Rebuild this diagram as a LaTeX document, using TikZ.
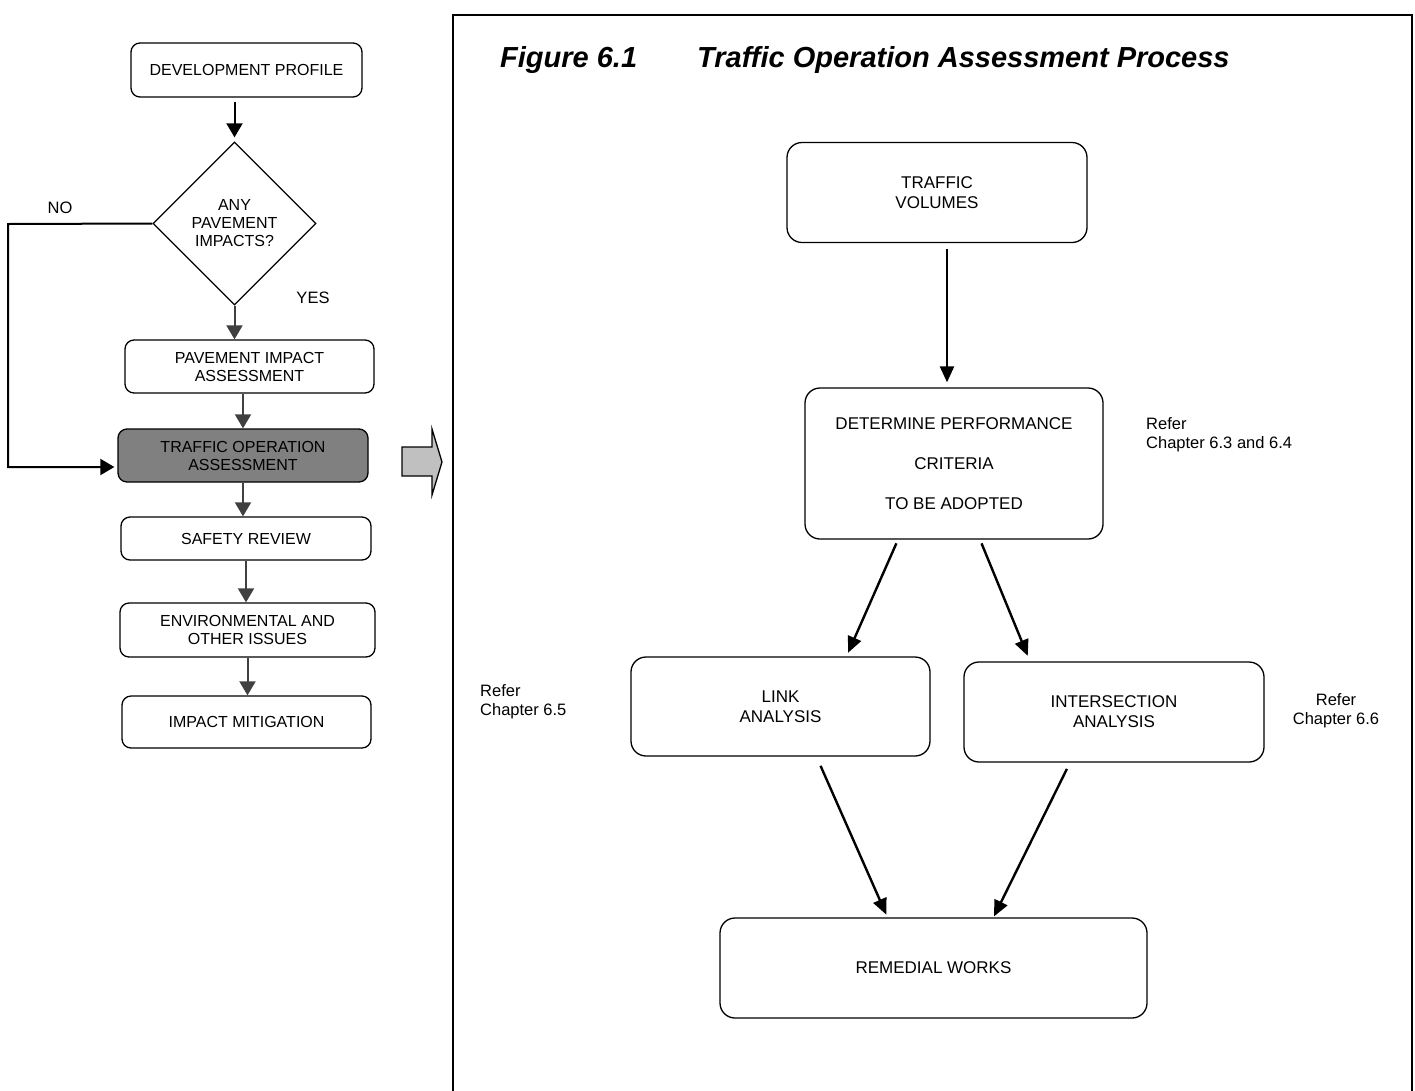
\documentclass[tikz,border=0pt]{standalone}
\usepackage{fontspec}
\setmainfont{Liberation Sans}
\setsansfont{Liberation Sans}
\usepackage{tikz}
\usetikzlibrary{shapes.geometric, arrows.meta, positioning, calc}
\definecolor{BoxGrey}{HTML}{808080}
\definecolor{ArrowGrey}{HTML}{C0C0C0}
\definecolor{StemGrey}{HTML}{404040}
\tikzset{
  leftbox/.style={rectangle, rounded corners=9pt, draw=black, line width=1.3pt, fill=white, minimum width=250pt, minimum height=53pt, font=\fontsize{16}{18}\selectfont, align=center},
  greybox/.style={leftbox, fill=BoxGrey},
  decisionbox/.style={diamond, draw=black, line width=1.3pt, fill=white, minimum width=163pt, minimum height=163pt, aspect=1, inner sep=0pt, font=\fontsize{16}{18}\selectfont, align=center},
  rightbox/.style={rectangle, rounded corners=15pt, draw=black, line width=1.3pt, fill=white, minimum width=300pt, minimum height=100pt, font=\fontsize{17}{20}\selectfont, align=center},
  arrow/.style={-{Triangle[length=14pt, width=16pt]}, line width=2pt, black},
  greyarrow/.style={arrow, StemGrey},
  rarrow/.style={-{Triangle[length=16pt, width=14pt]}, line width=2.4pt, black},
  notelabel/.style={font=\fontsize{16.5}{19}\selectfont, inner sep=0pt},
  titletext/.style={font=\fontsize{29}{31}\selectfont\bfseries\itshape, inner sep=0pt, anchor=base west}
}
\begin{document}
\begin{tikzpicture}[x=1pt, y=-1pt]
  \useasboundingbox (0,0) rectangle (1415,1090);

  % left column: overall process
  \node[leftbox, minimum width=231pt, minimum height=54pt] (dev) at (246.5,70) {DEVELOPMENT PROFILE};
  \node[decisionbox] (q) at (234.5,223.5) {ANY\\PAVEMENT\\IMPACTS?};
  \node[leftbox, minimum width=249pt] (pia) at (249.5,366.5) {PAVEMENT IMPACT\\ASSESSMENT};
  \node[greybox] (toa) at (243,455.5) {TRAFFIC OPERATION\\ASSESSMENT};
  \node[leftbox, minimum height=43pt] (safety) at (246,538.5) {SAFETY REVIEW};
  \node[leftbox, minimum width=255pt, minimum height=54pt] (env) at (247.5,630) {ENVIRONMENTAL AND\\OTHER ISSUES};
  \node[leftbox, minimum width=249pt, minimum height=52pt] (mit) at (246.5,722) {IMPACT MITIGATION};

  \node[notelabel] (no) at (60,208) {NO};
  \node[notelabel] (yes) at (313,298) {YES};

  \coordinate (nocorner) at (8,224);
  \coordinate (nofoot) at (8,467);

  \draw[arrow, shorten <=4pt, shorten >=4pt] (q.north |- dev.south) -- (q.north);
  \draw[greyarrow] (q.south) -- (q.south |- pia.north);
  \draw[greyarrow] (toa.north |- pia.south) -- (toa.north);
  \draw[greyarrow] (toa.south) -- (toa.south |- safety.north);
  \draw[greyarrow] (safety.south) -- (safety.south |- env.north);
  \draw[greyarrow] (env.south) -- (env.south |- mit.north);
  \draw[arrow, shorten >=3pt] (q.west) -- (nocorner) -- (nofoot) -- (toa.west |- nofoot);

  % link to the detailed figure
  \filldraw[fill=ArrowGrey, draw=black, line width=1.3pt] (402,447) -- (432,447) -- (432,429) -- (442,462) -- (432,495) -- (432,476) -- (402,476) -- cycle;
  \draw[line width=2pt] (453,1092) -- (453,15) -- (1412,15) -- (1412,1092);

  % right column: Figure 6.1
  \node[titletext] (figno) at (500,67) {Figure 6.1};
  \node[titletext] (figtitle) at (697,67) {Traffic Operation Assessment Process};

  \node[rightbox] (tv) at (937,192.5) {TRAFFIC\\VOLUMES};
  \node[rightbox, minimum width=298pt, minimum height=151pt] (dp) at (954,463.5) {DETERMINE PERFORMANCE\\[20pt]CRITERIA\\[20pt]TO BE ADOPTED};
  \node[rightbox, minimum width=299pt, minimum height=99pt] (link) at (780.5,706.5) {LINK\\ANALYSIS};
  \node[rightbox] (int) at (1114,712) {INTERSECTION\\ANALYSIS};
  \node[rightbox, minimum width=427pt] (rem) at (933.5,968) {REMEDIAL WORKS};

  \node[notelabel, anchor=west, align=left] (refdp) at (1146,435) {Refer\\Chapter 6.3 and 6.4};
  \node[notelabel, anchor=west, align=left] (reflink) at (480,702) {Refer\\Chapter 6.5};
  \node[notelabel, align=center] (refint) at (1336,711) {Refer\\Chapter 6.6};

  \draw[rarrow, shorten <=6pt, shorten >=5pt] ([xshift=10pt]tv.south) -- ([xshift=-7pt]dp.north);
  \draw[rarrow, shorten <=4pt, shorten >=4pt] ([xshift=-56pt]dp.south) -- ([xshift=66pt]link.north);
  \draw[rarrow, shorten <=4pt, shorten >=6pt] ([xshift=26pt]dp.south) -- ([xshift=-84pt]int.north);
  \draw[rarrow, shorten <=10pt, shorten >=3pt] ([xshift=36pt]link.south) -- ([xshift=-46pt]rem.north);
  \draw[rarrow, shorten <=7pt, shorten >=1pt] ([xshift=-44pt]int.south) -- ([xshift=60pt]rem.north);
\end{tikzpicture}
\end{document}
